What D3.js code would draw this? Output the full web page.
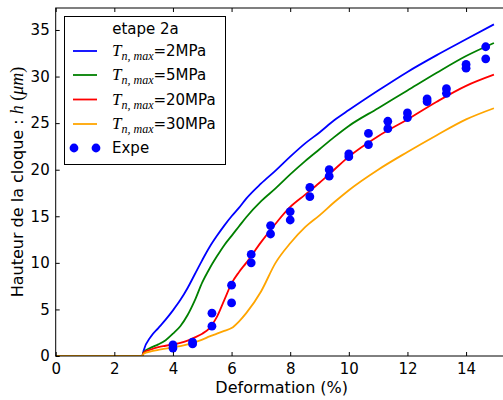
<!DOCTYPE html>
<html>
<head>
<meta charset="utf-8">
<script src="https://cdn.jsdelivr.net/npm/d3@7"></script>
<style>
  html, body { margin: 0; padding: 0; background: #fff; }
  svg { display: block; }
  text { font-family: "DejaVu Sans", sans-serif; fill: #000; }
</style>
</head>
<body>
<svg id="chart" width="503" height="400"></svg>
<script>
// ---- data ----
const strain = [0, 2.95, 3, 3.25, 3.5, 3.75, 4, 4.25, 4.5, 4.75, 5, 5.25, 5.5, 5.75, 6, 6.25, 6.5, 7, 7.5, 8, 8.5, 9, 9.5, 10, 11, 12, 13, 14, 14.95];
const h2MPa  = [0, 0, 0.6, 2.1, 3.0, 3.9, 4.9, 6.0, 7.3, 8.8, 10.3, 11.7, 12.9, 14.0, 15.0, 15.9, 16.9, 18.5, 19.9, 21.4, 22.8, 24.0, 25.3, 26.4, 28.5, 30.5, 32.3, 34.0, 35.6];
const h5MPa  = [0, 0, 0.4, 0.9, 1.25, 1.7, 2.4, 3.2, 4.4, 6.0, 7.9, 9.4, 10.7, 11.9, 12.9, 13.9, 14.9, 16.6, 18.0, 19.5, 20.9, 22.2, 23.5, 24.7, 26.6, 28.5, 30.4, 32.2, 33.6];
const h20MPa = [0, 0, 0.35, 0.7, 0.95, 1.1, 1.25, 1.4, 1.65, 2.0, 2.4, 3.0, 4.2, 6.0, 7.8, 9.0, 10.0, 12.2, 14.2, 16.0, 17.3, 18.6, 20.0, 21.4, 23.6, 25.4, 27.3, 29.0, 30.2];
const h30MPa = [0, 0, 0.25, 0.5, 0.65, 0.8, 0.93, 1.05, 1.25, 1.5, 1.75, 2.1, 2.4, 2.7, 3.0, 3.7, 4.6, 6.9, 10.0, 12.1, 13.8, 15.1, 16.5, 17.8, 20.0, 21.9, 23.7, 25.4, 26.6];

const expeStrain = [4, 4, 4.67, 4.67, 5.33, 5.33, 6, 6, 6.67, 6.67, 7.33, 7.33, 8, 8, 8.67, 8.67, 9.33, 9.33, 10, 10, 10.67, 10.67, 11.33, 11.33, 12, 12, 12.67, 12.67, 13.33, 13.33, 14, 14, 14.67, 14.67];
const expeH      = [1.2, 0.85, 1.5, 1.3, 4.6, 3.2, 7.6, 5.7, 10.9, 10.0, 14.0, 13.1, 15.5, 14.6, 18.1, 17.1, 20.0, 19.3, 21.7, 21.4, 23.9, 22.7, 25.2, 24.4, 26.1, 25.6, 27.6, 27.3, 28.7, 28.2, 31.3, 30.9, 33.2, 31.9];

const seriesNames = ["2MPa", "5MPa", "20MPa", "30MPa"];
const seriesColors = ["#0000ff", "#008000", "#ff0000", "#ffa500"];
const seriesValues = [h2MPa, h5MPa, h20MPa, h30MPa];

const xTicks = [0, 2, 4, 6, 8, 10, 12, 14];
const yTicks = [0, 5, 10, 15, 20, 25, 30, 35];
const legendTitle = "etape 2a";
const xLabel = "Deformation (%)";

// ---- layout ----
const svg = d3.select("#chart");
const L = 55.7, R = 507.7, T = 8, B = 356;
const x = d3.scaleLinear().domain([0, 15.42]).range([L, R]);
const y = d3.scaleLinear().domain([0, 37.36]).range([B, T]);

svg.append("defs").append("clipPath").attr("id", "plotclip")
  .append("rect").attr("x", L).attr("y", T).attr("width", R - L).attr("height", B - T);

const plot = svg.append("g").attr("clip-path", "url(#plotclip)");

const line = d3.line().x(d => x(d[0])).y(d => y(d[1])).curve(d3.curveMonotoneX);
seriesValues.forEach((vals, i) => {
  plot.append("path")
    .attr("d", line(strain.map((s, j) => [s, vals[j]])))
    .attr("fill", "none")
    .attr("stroke", seriesColors[i])
    .attr("stroke-width", 1.8)
    .attr("stroke-linejoin", "round");
});

plot.selectAll("circle.expe").data(expeStrain.map((s, i) => [s, expeH[i]]))
  .enter().append("circle")
  .attr("class", "expe")
  .attr("cx", d => x(d[0])).attr("cy", d => y(d[1]))
  .attr("r", 4.4).attr("fill", "#0000ff");

// ---- axes (ticks inward, on all sides) ----
const tickLen = 4;
const axB = d3.axisBottom(x).tickValues(xTicks).tickSizeInner(-tickLen).tickSizeOuter(0).tickPadding(7).tickFormat(d3.format("d"));
const axT = d3.axisTop(x).tickValues(xTicks).tickSizeInner(-tickLen).tickSizeOuter(0).tickFormat("");
const axL = d3.axisLeft(y).tickValues(yTicks).tickSizeInner(-tickLen).tickSizeOuter(0).tickPadding(6).tickFormat(d3.format("d"));
const axR = d3.axisRight(y).tickValues(yTicks).tickSizeInner(-tickLen).tickSizeOuter(0).tickFormat("");

function styleAxis(g) {
  g.select(".domain").remove();
  g.selectAll("line").attr("stroke", "#000").attr("stroke-width", 1);
  g.selectAll("text").style("font-size", "15px").style("font-family", "DejaVu Sans, sans-serif");
}
svg.append("g").attr("transform", `translate(0,${B})`).call(axB).call(styleAxis);
svg.append("g").attr("transform", `translate(0,${T})`).call(axT).call(styleAxis);
svg.append("g").attr("transform", `translate(${L},0)`).call(axL).call(styleAxis);
svg.append("g").attr("transform", `translate(${R},0)`).call(axR).call(styleAxis);

// frame
svg.append("rect").attr("x", L).attr("y", T).attr("width", R - L).attr("height", B - T)
  .attr("fill", "none").attr("stroke", "#000").attr("stroke-width", 1);

// axis titles
svg.append("text").attr("x", (L + R) / 2).attr("y", 393)
  .attr("text-anchor", "middle").style("font-size", "16px").text(xLabel);

const yl = svg.append("text")
  .attr("transform", `translate(23,${(T + B) / 2}) rotate(-90)`)
  .attr("text-anchor", "middle").style("font-size", "16px");
yl.append("tspan").text("Hauteur de la cloque : ");
yl.append("tspan").style("font-family", "Liberation Serif, serif").style("font-style", "italic").style("font-size", "18px").text("h");
yl.append("tspan").style("font-family", "Liberation Serif, serif").style("font-size", "18px").text(" (");
yl.append("tspan").style("font-family", "Liberation Serif, serif").style("font-style", "italic").style("font-size", "18px").text("μm");
yl.append("tspan").style("font-family", "Liberation Serif, serif").style("font-size", "18px").text(")");

// ---- legend ----
const lg = svg.append("g");
const bx = 64, by = 16, bw = 161, bh = 148;
lg.append("rect").attr("x", bx + 0.5).attr("y", by + 0.5).attr("width", bw).attr("height", bh)
  .attr("fill", "#fff").attr("stroke", "#000").attr("stroke-width", 1);
lg.append("text").attr("x", bx + bw / 2 + 1).attr("y", 34).attr("text-anchor", "middle")
  .style("font-size", "15px").text(legendTitle);

const rowY = [51, 75, 99.5, 124];
seriesNames.forEach((name, i) => {
  const cy = rowY[i];
  lg.append("line").attr("x1", 73).attr("x2", 97).attr("y1", cy).attr("y2", cy)
    .attr("stroke", seriesColors[i]).attr("stroke-width", 1.8);
  const t = lg.append("text").attr("x", 112).attr("y", cy + 5).style("font-size", "15px");
  t.append("tspan").style("font-family", "Liberation Serif, serif").style("font-style", "italic").style("font-size", "17px").text("T");
  t.append("tspan").attr("dy", 4).style("font-family", "Liberation Serif, serif").style("font-style", "italic").style("font-size", "12px").text("n, max");
  t.append("tspan").attr("dy", -4).text("=" + name);
});
const ey = 148;
[74, 96].forEach(cx => {
  lg.append("circle").attr("cx", cx).attr("cy", ey).attr("r", 4.4).attr("fill", "#0000ff");
});
lg.append("text").attr("x", 112).attr("y", ey + 5).style("font-size", "15px").text("Expe");
</script>
</body>
</html>
